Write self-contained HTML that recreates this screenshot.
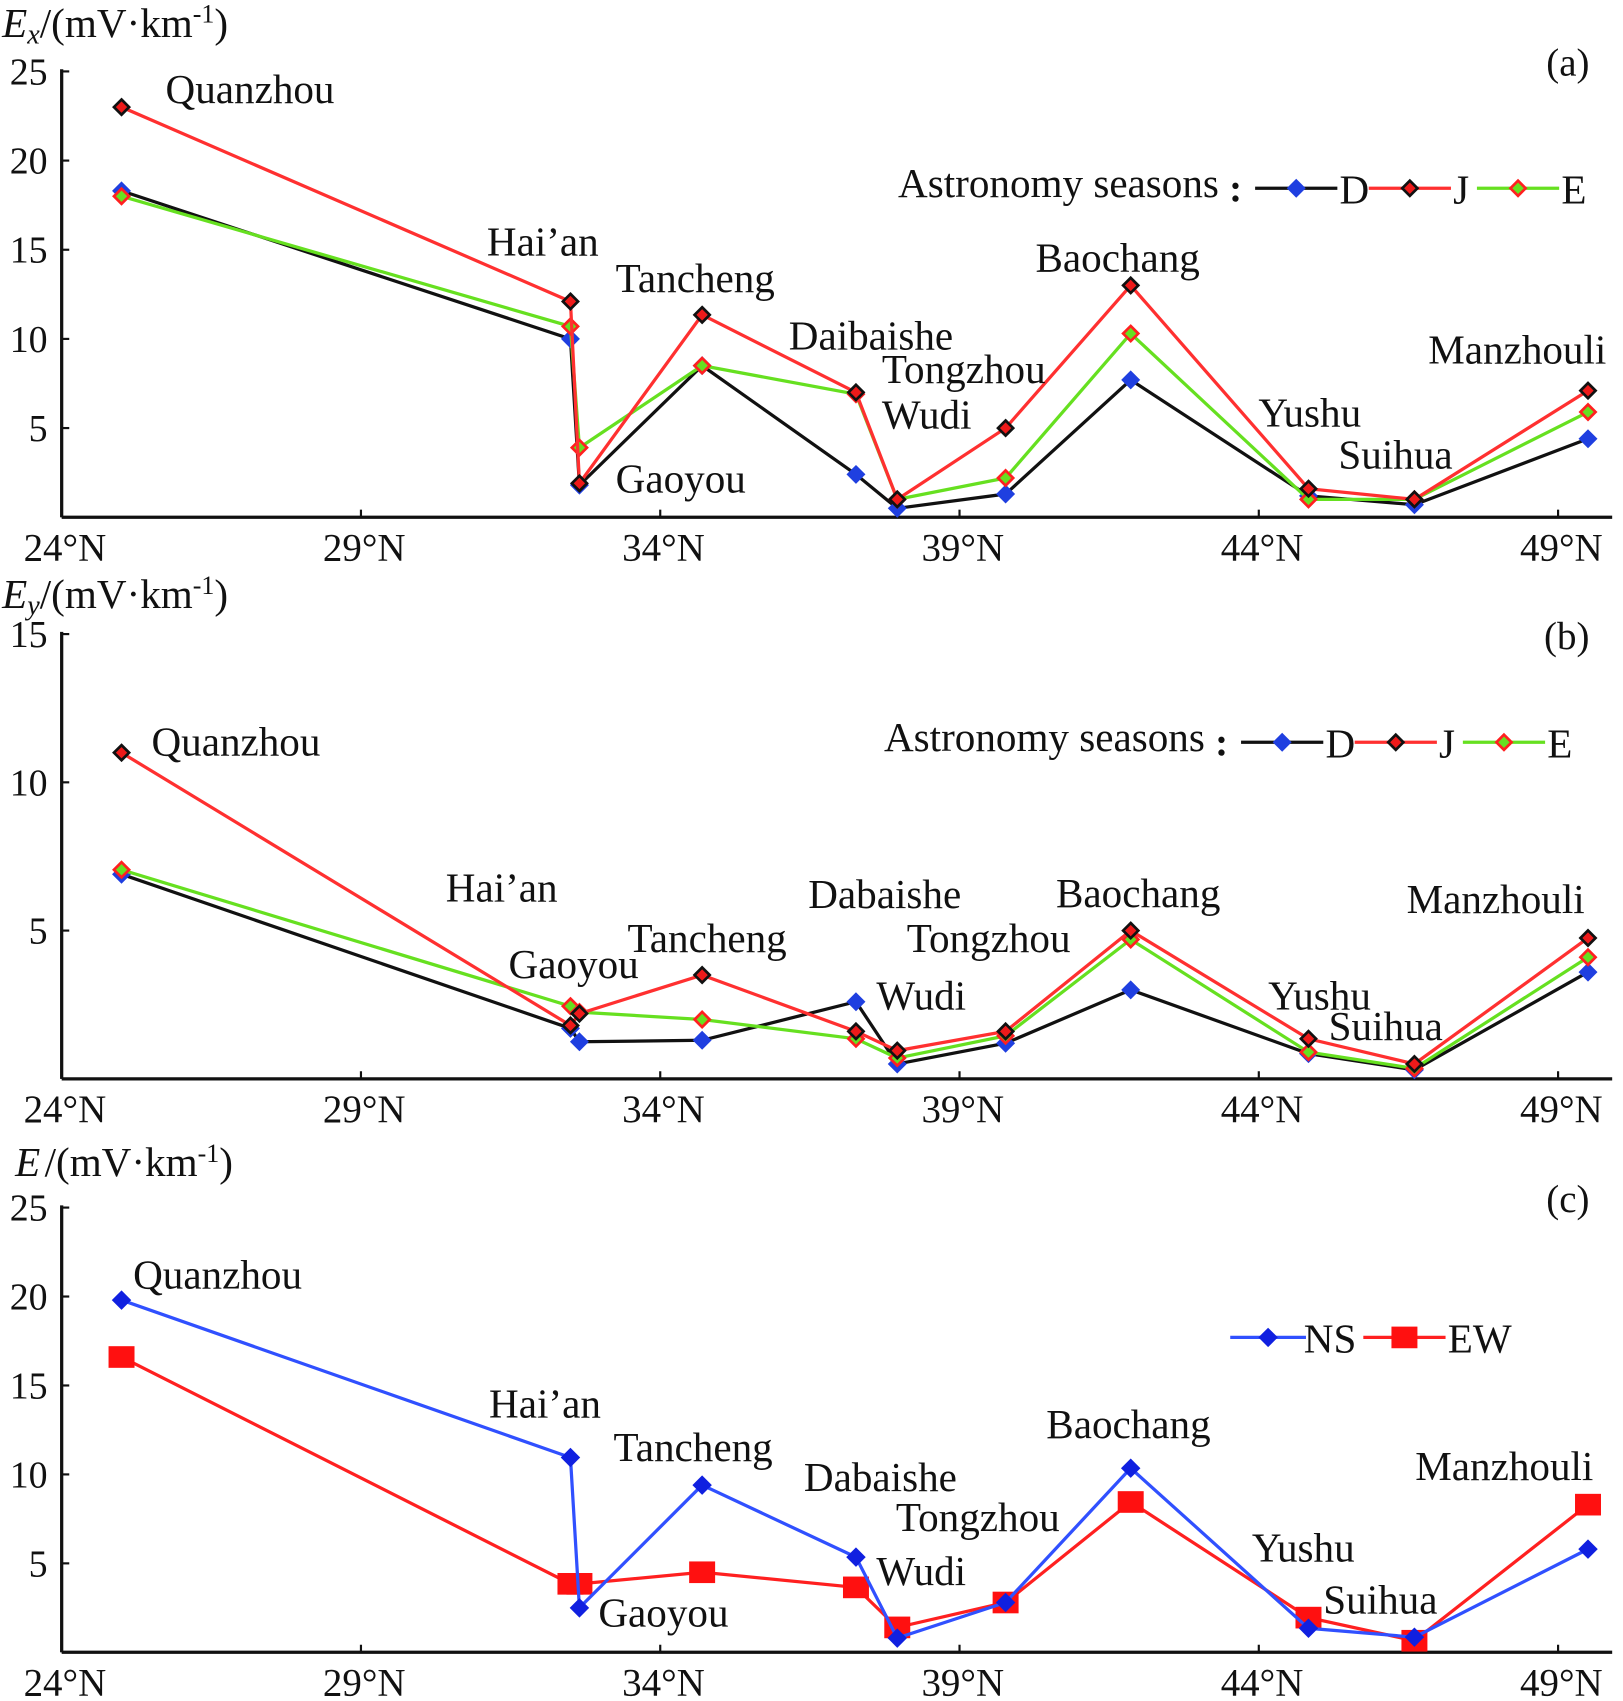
<!DOCTYPE html>
<html><head><meta charset="utf-8"><style>
html,body{margin:0;padding:0;background:#fff}
svg{display:block}
text{font-family:"Liberation Serif",serif;fill:#111}
</style></head><body>
<svg id="chart" width="1623" height="1701" viewBox="0 0 1500 1572" preserveAspectRatio="none" xmlns="http://www.w3.org/2000/svg"></svg>
<script>
const lats = [25.0, 32.5, 32.65, 34.7, 37.27, 37.96, 39.77, 41.86, 44.83, 46.6, 49.5];
const xTicks = [24, 29, 34, 39, 44, 49];
const xTickLabels = ["24°N","29°N","34°N","39°N","44°N","49°N"];
const aD = [18.3, 10.0, 1.8, 8.5, 2.4, 0.5, 1.3, 7.7, 1.2, 0.7, 4.4];
const aJ = [23.0, 12.1, 1.9, 11.35, 7.0, 1.0, 5.0, 13.0, 1.6, 1.0, 7.1];
const aE = [18.0, 10.7, 3.9, 8.5, 6.9, 1.0, 2.2, 10.3, 1.0, 1.0, 5.9];
const bD = [6.9, 1.7, 1.25, 1.3, 2.6, 0.5, 1.2, 3.0, 0.85, 0.3, 3.6];
const bJ = [11.0, 1.8, 2.2, 3.5, 1.6, 0.95, 1.6, 5.0, 1.35, 0.5, 4.75];
const bE = [7.05, 2.45, 2.25, 2.0, 1.35, 0.7, 1.45, 4.7, 0.9, 0.35, 4.1];
const cNS = [19.8, 10.95, 2.5, 9.4, 5.35, 0.8, 2.8, 10.35, 1.35, 0.85, 5.8];
const cEW = [16.6, 3.85, 3.85, 4.5, 3.65, 1.4, 2.8, 8.45, 1.95, 0.65, 8.3];
const aTicks = [5, 10, 15, 20, 25];
const bTicks = [5, 10, 15];
const cTicks = [5, 10, 15, 20, 25];

const svg = document.getElementById('chart');
const NS = 'http://www.w3.org/2000/svg';
function mk(tag, attrs, parent){
  const e = document.createElementNS(NS, tag);
  for (const k in attrs) e.setAttribute(k, attrs[k]);
  (parent||svg).appendChild(e);
  return e;
}
function xScale(lat){ return 57 + (lat - 24) * 55.32; }

function panel(p){
  const g = mk('g', {});
  
  
  const y = v => p.y0 - v * p.k;
  const ax = mk('line', {x1:57, y1:p.y0, x2:1490, y2:p.y0, stroke:'#111', 'stroke-width':3}, g);
  
  
  const ay = mk('line', {x1:57, y1:p.y0, x2:57, y2:y(p.ymax)-2, stroke:'#111', 'stroke-width':3}, g);
  
  
  p.ticks.forEach(t => {
    mk('line', {x1:57, y1:y(t), x2:64, y2:y(t), stroke:'#111', 'stroke-width':2}, g);
    const tl = mk('text', {x:44, y:y(t)+12, 'font-size':35, 'text-anchor':'end'}, g);
    tl.textContent = t;
    
    
  });
  xTicks.forEach((t, i) => {
    mk('line', {x1:xScale(t), y1:p.y0, x2:xScale(t), y2:p.y0-7, stroke:'#111', 'stroke-width':2}, g);
    const tl = mk('text', {x:xScale(t)+3, y:p.y0+40, 'font-size':36, 'text-anchor':'middle'}, g);
    tl.textContent = xTickLabels[i];
    
    
  });
  const tt = mk('text', {x:p.titleX, y:p.titleY, 'font-size':38}, g);
  tt.innerHTML = p.title;
  
  
  const pl = mk('text', {x:1469, y:p.panelY, 'font-size':36, 'text-anchor':'end'}, g);
  pl.textContent = p.panelLabel;
  
  
  p.series.forEach(s => {
    const pts = s.vals.map((v,i) => xScale(lats[i]) + ',' + y(v)).join(' ');
    const line = mk('polyline', {points:pts, fill:'none', stroke:s.line, 'stroke-width':3}, g);
    
    
    s.vals.forEach((v,i) => {
      const cx = xScale(lats[i]), cy = y(v);
      let m;
      if (s.square) {
        m = mk('rect', {x:cx-12, y:cy-10, width:24, height:20, fill:s.fill}, g);
      } else {
        const r = s.r || 7;
        m = mk('polygon', {points:`${cx},${cy-r} ${cx+r},${cy} ${cx},${cy+r} ${cx-r},${cy}`, fill:s.fill, stroke:s.stroke||'none', 'stroke-width':2.5}, g);
      }
      
      
    });
  });
  p.labels.forEach(l => {
    const t = mk('text', {x:l[1], y:l[2], 'font-size':38}, g);
    t.textContent = l[0];
    
    
  });
  return g;
}

const D = {id:'d', line:'#111', fill:'#1f3fe0', stroke:'#111'};
const J = {id:'j', line:'#ff3030', fill:'#ee1a1a', stroke:'#111'};
const E = {id:'e', line:'#66e020', fill:'#66e020', stroke:'#ff2020'};

panel({name:'panel-a', y0:478, k:16.48, ymax:25, ticks:aTicks, title:'<tspan font-style="italic">E</tspan><tspan font-style="italic" font-size="26" dy="6">x</tspan><tspan dy="-6">/(mV·km</tspan><tspan font-size="24" dy="-13">-1</tspan><tspan dy="13">)</tspan>', titleX:2, titleY:34, panelLabel:'(a)', panelY:70,
  series:[Object.assign({vals:aD}, D, {fill:'#1f3fe0', stroke:'#1f3fe0'}), Object.assign({vals:aE}, E), Object.assign({vals:aJ}, J)],
  labels:[['Quanzhou',153,95],['Hai’an',450,236],['Tancheng',569,270],['Gaoyou',569,455],['Daibaishe',729,323],['Tongzhou',815,354],['Wudi',815,396],['Baochang',957,251],['Yushu',1163,394],['Suihua',1237,433],['Manzhouli',1320,336]]});
panel({name:'panel-b', y0:997, k:27.4, ymax:15, ticks:bTicks, title:'<tspan font-style="italic">E</tspan><tspan font-style="italic" font-size="26" dy="6">y</tspan><tspan dy="-6">/(mV·km</tspan><tspan font-size="24" dy="-13">-1</tspan><tspan dy="13">)</tspan>', titleX:2, titleY:562, panelLabel:'(b)', panelY:600,
  series:[Object.assign({vals:bD}, D, {fill:'#1f3fe0', stroke:'#1f3fe0'}), Object.assign({vals:bE}, E), Object.assign({vals:bJ}, J)],
  labels:[['Quanzhou',140,698],['Hai’an',412,833],['Gaoyou',470,904],['Tancheng',580,880],['Dabaishe',747,839],['Wudi',810,933],['Tongzhou',838,880],['Baochang',976,838],['Yushu',1172,933],['Suihua',1228,961],['Manzhouli',1300,844]]});
panel({name:'panel-c', y0:1527, k:16.44, ymax:25, ticks:cTicks, title:'<tspan font-style="italic">E</tspan><tspan dx="4">/(mV·km</tspan><tspan font-size="24" dy="-13">-1</tspan><tspan dy="13">)</tspan>', titleX:14, titleY:1087, panelLabel:'(c)', panelY:1120,
  series:[{id:'ew', line:'#ff2020', fill:'#ff1010', square:true, vals:cEW}, {id:'ns', line:'#3050ff', fill:'#1020e0', r:9, vals:cNS}],
  labels:[['Quanzhou',123,1191],['Hai’an',452,1310],['Tancheng',567,1350],['Gaoyou',553,1503],['Dabaishe',743,1378],['Tongzhou',828,1415],['Wudi',810,1465],['Baochang',967,1329],['Yushu',1157,1443],['Suihua',1223,1491],['Manzhouli',1308,1368]]});

function legendAB(y, x0){
  const g = mk('g', {});
  
  
  const t = mk('text', {x:x0, y:y+8, 'font-size':38}, g);
  t.textContent = 'Astronomy seasons';
  const c = mk('text', {x:x0+306, y:y+12, 'font-size':36, 'font-weight':'bold'}, g);
  c.textContent = ':';
  const items = [['D', '#111', '#1f3fe0', '#1f3fe0', x0+330], ['J', '#ff3030', '#ee1a1a', '#111', x0+435], ['E', '#66e020', '#66e020', '#ff2020', x0+535]];
  items.forEach(it => {
    const e = mk('g', {}, g);
    
    
    mk('line', {x1:it[4], y1:y, x2:it[4]+76, y2:y, stroke:it[1], 'stroke-width':3}, e);
    const cx = it[4]+38;
    mk('polygon', {points:`${cx},${y-7} ${cx+7},${y} ${cx},${y+7} ${cx-7},${y}`, fill:it[2], stroke:it[3], 'stroke-width':2.5}, e);
    const lt = mk('text', {x:it[4]+78, y:y+14, 'font-size':38}, e);
    lt.textContent = it[0];
  });
}
legendAB(174, 830);
legendAB(686, 817);
(function(){
  const g = mk('g', {});
  
  
  const e1 = mk('g', {}, g);
  
  
  mk('line', {x1:1137, y1:1236, x2:1207, y2:1236, stroke:'#3050ff', 'stroke-width':3}, e1);
  mk('polygon', {points:'1172,1227 1181,1236 1172,1245 1163,1236', fill:'#1020e0'}, e1);
  const t1 = mk('text', {x:1205, y:1250, 'font-size':38}, e1); t1.textContent = 'NS';
  const e2 = mk('g', {}, g);
  
  
  mk('line', {x1:1260, y1:1236, x2:1336, y2:1236, stroke:'#ff2020', 'stroke-width':3}, e2);
  mk('rect', {x:1286, y:1226, width:24, height:20, fill:'#ff1010'}, e2);
  const t2 = mk('text', {x:1338, y:1250, 'font-size':38}, e2); t2.textContent = 'EW';
})();
</script>
</body></html>
